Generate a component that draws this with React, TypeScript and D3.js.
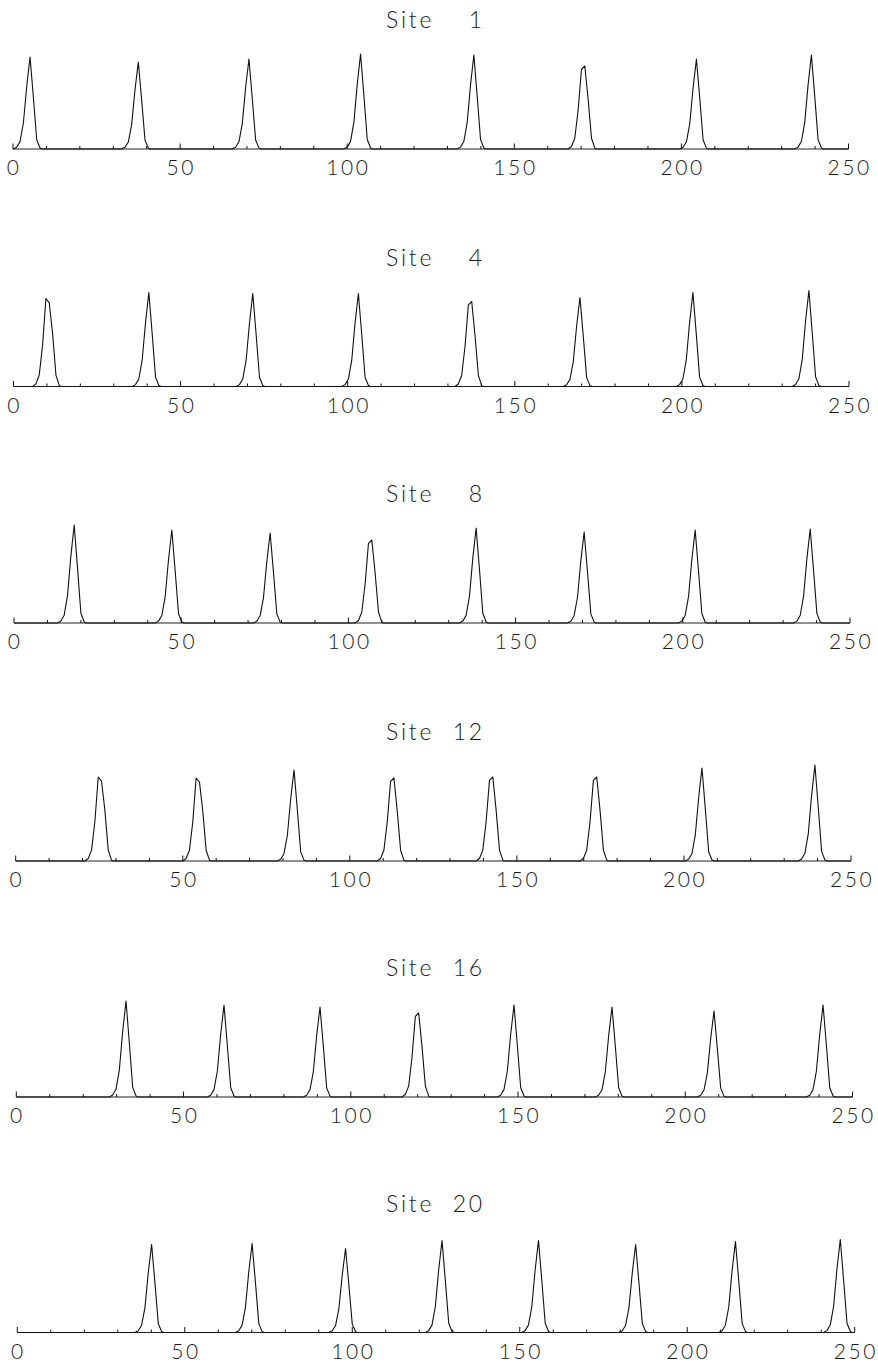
import React from 'react';
import * as d3 from 'd3';

// Site numbers, one panel each
const SITES = [1, 4, 8, 12, 16, 20];

// Peak positions (x units), peak heights (relative intensity) and top shape per site.
// Shape codes: 'p' = single sharp apex, 'fl' = flat top with lower left sample, 'fr' = flat top with lower right sample.
const SITE1_CENTERS = [5.1, 37.5, 70.6, 104.0, 137.9, 170.6, 204.5, 238.9];
const SITE1_HEIGHTS = [92, 87, 90, 95, 94, 83, 90, 94];
const SITE1_SHAPES = ['p', 'p', 'p', 'p', 'p', 'fl', 'p', 'p'];

const SITE4_CENTERS = [10.2, 40.5, 71.6, 103.2, 136.6, 169.5, 203.3, 238.0];
const SITE4_HEIGHTS = [88, 94, 93, 93, 85, 89, 94, 96];
const SITE4_SHAPES = ['fr', 'p', 'p', 'p', 'fl', 'p', 'p', 'p'];

const SITE8_CENTERS = [18.0, 47.2, 76.6, 106.5, 138.2, 170.5, 203.7, 238.1];
const SITE8_HEIGHTS = [98, 93, 90, 83, 95, 91, 93, 94];
const SITE8_SHAPES = ['p', 'p', 'p', 'fl', 'p', 'p', 'p', 'p'];

const SITE12_CENTERS = [25.2, 54.5, 83.3, 112.7, 142.3, 173.4, 205.4, 239.2];
const SITE12_HEIGHTS = [84, 83, 91, 83, 84, 84, 93, 96];
const SITE12_SHAPES = ['fr', 'fr', 'p', 'fl', 'fl', 'fl', 'p', 'p'];

const SITE16_CENTERS = [32.8, 62.1, 90.8, 119.8, 148.8, 178.1, 208.6, 241.2];
const SITE16_HEIGHTS = [96, 92, 90, 84, 92, 90, 86, 92];
const SITE16_SHAPES = ['p', 'p', 'p', 'fl', 'p', 'p', 'p', 'p'];

const SITE20_CENTERS = [40.1, 70.1, 98.0, 126.8, 155.6, 184.6, 214.4, 245.7];
const SITE20_HEIGHTS = [88, 89, 84, 92, 92, 88, 91, 93];
const SITE20_SHAPES = ['p', 'p', 'p', 'p', 'p', 'p', 'p', 'p'];

// Sampled peak profiles: [offset from peak centre, fraction of peak height]
const PROFILE_SHARP: [number, number][] = [
  [-5, 0], [-4, 0.02], [-3, 0.08], [-2, 0.28], [-1, 0.68], [0, 1], [1, 0.56], [2, 0.1], [3, 0.01], [3.6, 0],
];
const PROFILE_FLAT_L: [number, number][] = [
  [-4.5, 0], [-3.5, 0.03], [-2.5, 0.13], [-1.5, 0.47], [-0.5, 0.96], [0.5, 1], [1.5, 0.6], [2.5, 0.13], [3.5, 0.01], [4, 0],
];
const PROFILE_FLAT_R: [number, number][] = [
  [-4.5, 0], [-3.5, 0.03], [-2.5, 0.13], [-1.5, 0.47], [-0.5, 1], [0.5, 0.95], [1.5, 0.6], [2.5, 0.13], [3.5, 0.01], [4, 0],
];

// Axis ticks
const X_DOMAIN: [number, number] = [0, 250];
const MAJOR_TICKS = [0, 50, 100, 150, 200, 250];
const MINOR_STEP = 10;

const PANELS = [
  { site: SITES[0], centers: SITE1_CENTERS, heights: SITE1_HEIGHTS, shapes: SITE1_SHAPES },
  { site: SITES[1], centers: SITE4_CENTERS, heights: SITE4_HEIGHTS, shapes: SITE4_SHAPES },
  { site: SITES[2], centers: SITE8_CENTERS, heights: SITE8_HEIGHTS, shapes: SITE8_SHAPES },
  { site: SITES[3], centers: SITE12_CENTERS, heights: SITE12_HEIGHTS, shapes: SITE12_SHAPES },
  { site: SITES[4], centers: SITE16_CENTERS, heights: SITE16_HEIGHTS, shapes: SITE16_SHAPES },
  { site: SITES[5], centers: SITE20_CENTERS, heights: SITE20_HEIGHTS, shapes: SITE20_SHAPES },
];

// Page layout
const WIDTH = 878;
const HEIGHT = 1364;
const BASELINES = [149, 386.5, 623, 861, 1097, 1332.5];
const AXIS_LEFT = [13, 13.5, 14, 15.7, 16.3, 17.3];
const AXIS_RIGHT = [848.5, 849, 850, 851, 852.5, 854.7];
const FONT = "Lato, 'Open Sans', 'DejaVu Sans', sans-serif";

function profileFor(shape: string) {
  if (shape === 'fl') return PROFILE_FLAT_L;
  if (shape === 'fr') return PROFILE_FLAT_R;
  return PROFILE_SHARP;
}

function buildTrace(centers: number[], heights: number[], shapes: string[]) {
  const pts: [number, number][] = [[X_DOMAIN[0], 0]];
  centers.forEach((c, i) => {
    profileFor(shapes[i]).forEach(([dx, f]) => pts.push([c + dx, f * heights[i]]));
  });
  pts.push([X_DOMAIN[1], 0]);
  return pts;
}

function Panel({ index }: { index: number }) {
  const p = PANELS[index];
  const base = BASELINES[index];
  const x = d3.scaleLinear().domain(X_DOMAIN).range([AXIS_LEFT[index], AXIS_RIGHT[index]]);
  const y = d3.scaleLinear().domain([0, 100]).range([base, base - 100]);
  const line = d3.line<[number, number]>().x((d) => x(d[0])).y((d) => y(d[1]));
  const trace = buildTrace(p.centers, p.heights, p.shapes);
  const minor = d3.range(X_DOMAIN[0], X_DOMAIN[1] + 1, MINOR_STEP).filter((t) => !MAJOR_TICKS.includes(t));

  return (
    <g>
      <text y={base - 121} fontFamily={FONT} fontWeight={300} fontSize={23} letterSpacing={2.8} fill="#1a1a1a">
        <tspan x={386}>Site </tspan>
        <tspan x={485} textAnchor="end">{p.site}</tspan>
      </text>
      <line x1={x(X_DOMAIN[0])} x2={x(X_DOMAIN[1])} y1={base} y2={base} stroke="#222" strokeWidth={1} />
      {MAJOR_TICKS.map((t) => (
        <line key={'M' + t} x1={x(t)} x2={x(t)} y1={base} y2={base - 5.5} stroke="#111" strokeWidth={1} />
      ))}
      {minor.map((t) => (
        <line key={'m' + t} x1={x(t)} x2={x(t)} y1={base} y2={base - 3} stroke="#111" strokeWidth={1} />
      ))}
      {MAJOR_TICKS.map((t) => (
        <text key={'L' + t} x={x(t) + 1.2} y={base + 26} textAnchor="middle" fontFamily={FONT} fontWeight={300} fontSize={21} letterSpacing={2.6} fill="#1a1a1a">
          {t}
        </text>
      ))}
      <path d={line(trace) || ''} fill="none" stroke="#111" strokeWidth={1.1} strokeLinejoin="round" />
    </g>
  );
}

export default function App() {
  return (
    <svg width={WIDTH} height={HEIGHT} style={{ position: 'absolute', left: 0, top: 0, background: '#fff' }}>
      <rect width={WIDTH} height={HEIGHT} fill="#fff" />
      {PANELS.map((_, i) => (
        <Panel key={i} index={i} />
      ))}
    </svg>
  );
}
